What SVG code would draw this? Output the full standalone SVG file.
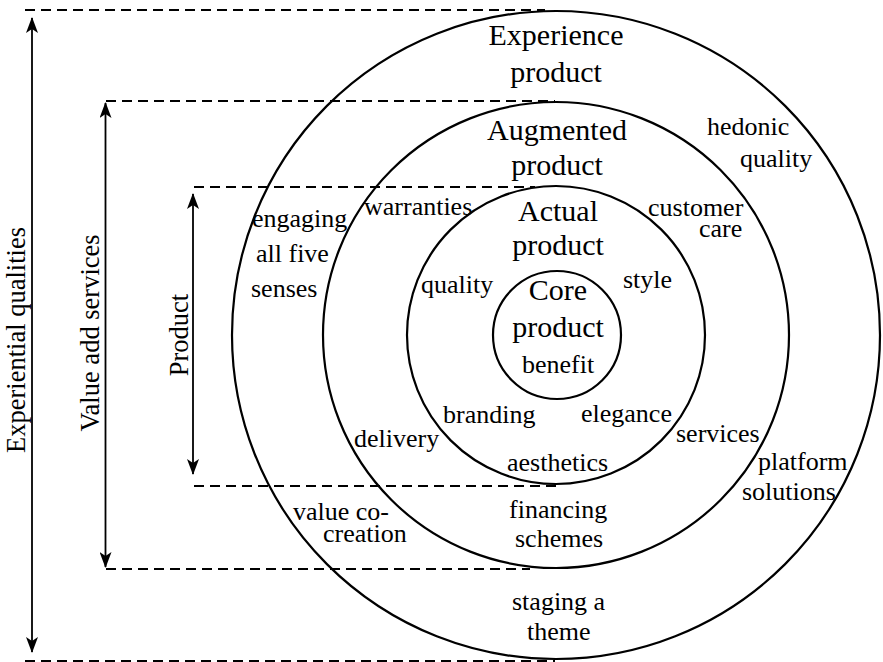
<svg xmlns="http://www.w3.org/2000/svg" width="883" height="662" viewBox="0 0 883 662">
<style>
.ring{fill:none;stroke:#000;stroke-width:2.2}
.dash{fill:none;stroke:#000;stroke-width:2;stroke-dasharray:10 6}
.arr{fill:none;stroke:#000;stroke-width:1.8}
text{font-family:'Liberation Serif','Times New Roman',serif;fill:#000}
.big{font-size:30px;text-anchor:middle}
.sm{font-size:26px}
.side{font-size:26.5px;text-anchor:middle}
</style>
<defs>
<marker id="ah" viewBox="0 0 16 12" refX="15" refY="6" markerWidth="16" markerHeight="12" markerUnits="userSpaceOnUse" orient="auto-start-reverse">
<path d="M0,0 L16,6 L0,12 L4,6 Z" fill="#000"/>
</marker>
</defs>
<rect width="883" height="662" fill="#fff"/>
<g id="connectors">
<line class="dash" x1="25" y1="10" x2="545" y2="10"/>
<line class="dash" x1="106" y1="101" x2="555" y2="101"/>
<line class="dash" x1="194" y1="187" x2="535" y2="187"/>
<line class="dash" x1="194" y1="486" x2="557" y2="486"/>
<line class="dash" x1="106" y1="569" x2="530" y2="569"/>
<line class="dash" x1="25" y1="661" x2="555" y2="661"/>
<line class="arr" x1="32" y1="18" x2="32" y2="652" marker-start="url(#ah)" marker-end="url(#ah)"/>
<line class="arr" x1="105.5" y1="103" x2="105.5" y2="567" marker-start="url(#ah)" marker-end="url(#ah)"/>
<line class="arr" x1="193" y1="194" x2="193" y2="474" marker-start="url(#ah)" marker-end="url(#ah)"/>
</g>
<g id="experience">
<circle class="ring" cx="556" cy="335" r="324"/>
<text class="big" x="556" y="45">Experience</text>
<text class="big" x="556" y="82">product</text>
<text class="sm" x="707" y="135">hedonic</text>
<text class="sm" x="740" y="167">quality</text>
<text class="sm" x="252" y="227">engaging</text>
<text class="sm" x="256" y="262">all five</text>
<text class="sm" x="251" y="297">senses</text>
<text class="sm" x="758" y="470">platform</text>
<text class="sm" x="742" y="500">solutions</text>
<text class="sm" x="293" y="520">value co-</text>
<text class="sm" x="323" y="542">creation</text>
<text class="sm" x="512" y="610">staging a</text>
<text class="sm" x="527" y="640">theme</text>
</g>
<g id="augmented">
<circle class="ring" cx="556" cy="335" r="233"/>
<text class="big" x="557" y="140">Augmented</text>
<text class="big" x="557" y="175">product</text>
<text class="sm" x="364" y="215">warranties</text>
<text class="sm" x="648" y="216">customer</text>
<text class="sm" x="699" y="237">care</text>
<text class="sm" x="354" y="447">delivery</text>
<text class="sm" x="676" y="442">services</text>
<text class="sm" x="509" y="518">financing</text>
<text class="sm" x="515" y="547">schemes</text>
</g>
<g id="actual">
<circle class="ring" cx="556" cy="335" r="149"/>
<text class="big" x="558" y="221">Actual</text>
<text class="big" x="558" y="255">product</text>
<text class="sm" x="421" y="293">quality</text>
<text class="sm" x="623" y="288">style</text>
<text class="sm" x="443" y="423">branding</text>
<text class="sm" x="581" y="422">elegance</text>
<text class="sm" x="507" y="471">aesthetics</text>
</g>
<g id="core">
<circle class="ring" cx="557" cy="335" r="64"/>
<text class="big" x="558" y="300">Core</text>
<text class="big" x="558" y="337">product</text>
<text class="sm" x="522" y="373">benefit</text>
</g>
<g id="side-labels">
<text class="side" transform="translate(25,340) rotate(-90)">Experiential qualities</text>
<text class="side" transform="translate(99,333) rotate(-90)">Value add services</text>
<text class="side" transform="translate(188,335) rotate(-90)">Product</text>
</g>
</svg>
